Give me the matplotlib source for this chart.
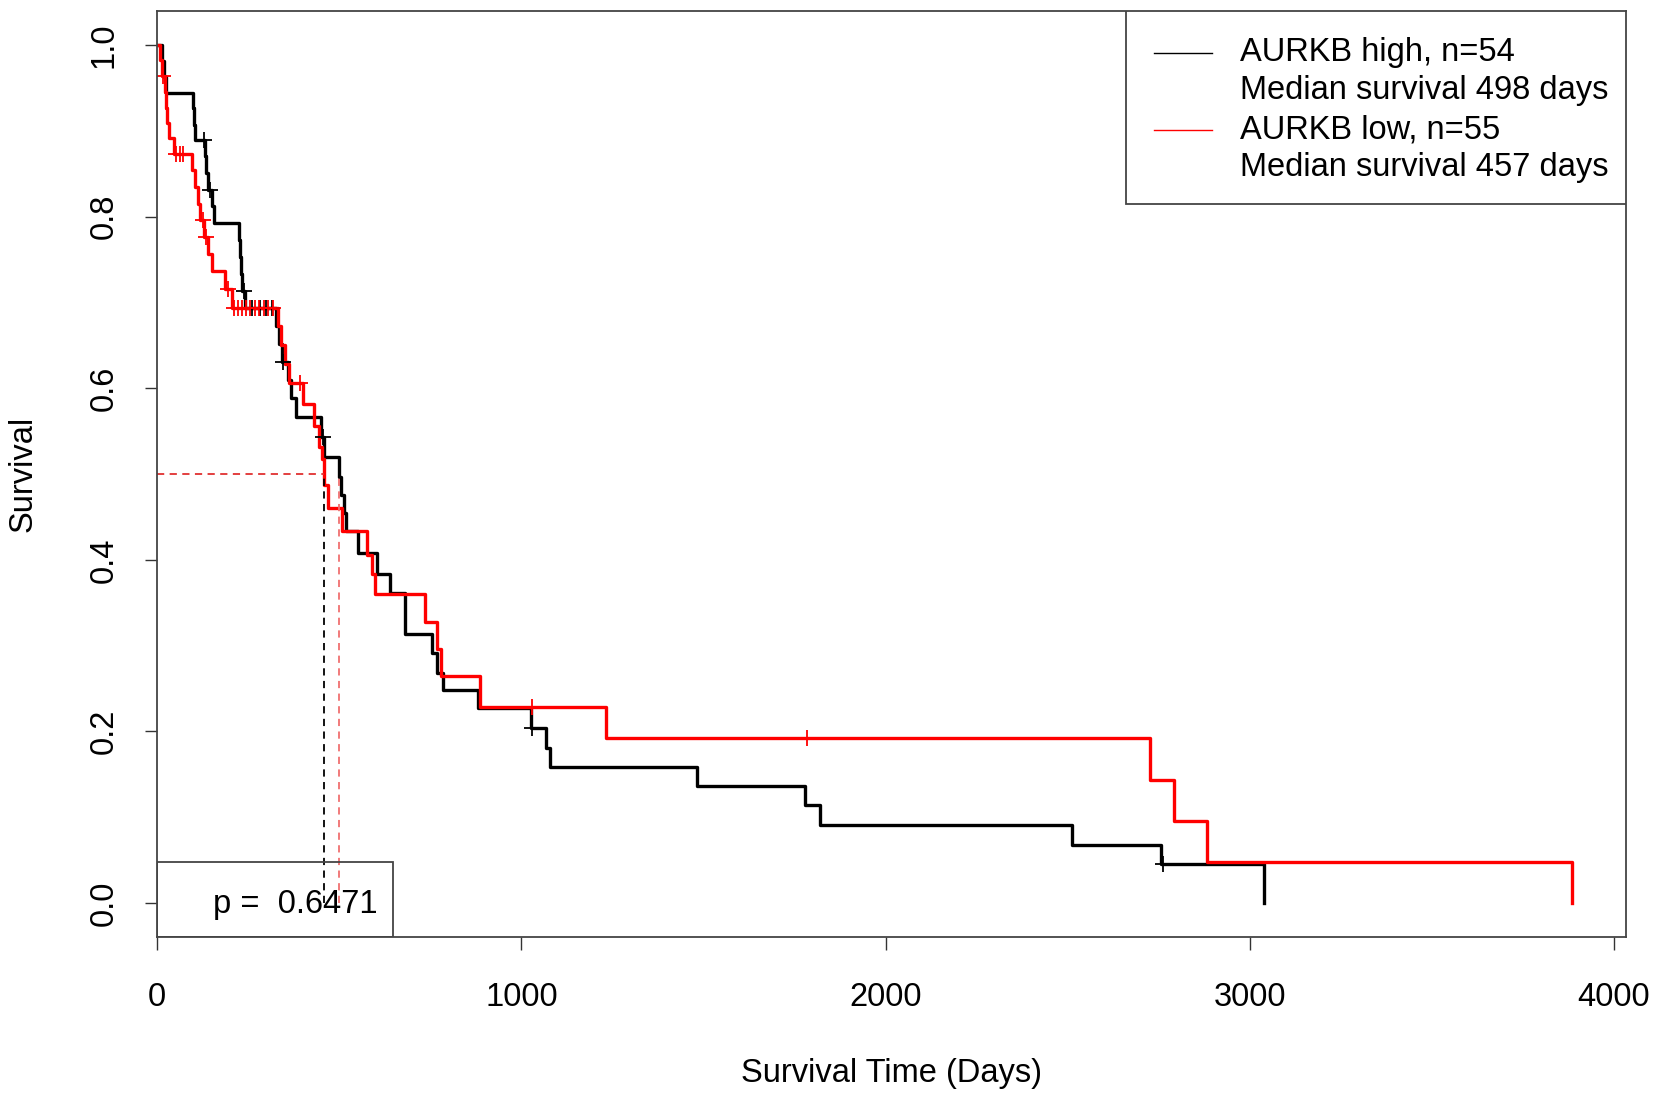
import numpy as np
import matplotlib
matplotlib.use('Agg')
import matplotlib.pyplot as plt
from matplotlib.patches import Rectangle

plt.rcParams['font.family'] = ['Liberation Sans', 'DejaVu Sans']

#%% data
# AURKB high (black): step times (days) and survival after each step
high_t = [0, 12, 18, 25, 98, 101, 105, 130, 135, 140, 150, 156, 225, 228, 231, 234,
          241, 327, 335, 342, 360, 368, 380, 450, 458, 498, 505, 512, 518, 552, 603,
          640, 680, 755, 768, 785, 881, 1026, 1068, 1078, 1482, 1778, 1820, 2512,
          2757, 3038]
high_s = [1.0, 0.981, 0.963, 0.944, 0.926, 0.907, 0.889, 0.870, 0.851, 0.831, 0.812,
          0.793, 0.773, 0.753, 0.733, 0.713, 0.693, 0.672, 0.651, 0.630, 0.609, 0.588,
          0.566, 0.543, 0.520, 0.497, 0.475, 0.454, 0.433, 0.408, 0.384, 0.361, 0.314,
          0.291, 0.268, 0.248, 0.227, 0.204, 0.181, 0.159, 0.136, 0.114, 0.091, 0.068,
          0.046, 0.0]
high_cens = [128, 145, 238, 259, 282, 300, 314, 345, 455, 1030, 2763]

# AURKB low (red)
low_t = [0, 8, 14, 20, 24, 28, 32, 45, 95, 105, 112, 118, 128, 140, 150, 186, 204,
         332, 340, 352, 362, 400, 430, 445, 452, 457, 470, 507, 575, 590, 598, 735,
         767, 778, 886, 1232, 2727, 2791, 2882, 3885]
low_s = [1.0, 0.982, 0.964, 0.945, 0.927, 0.909, 0.891, 0.873, 0.854, 0.835, 0.815,
         0.796, 0.776, 0.756, 0.736, 0.715, 0.694, 0.672, 0.650, 0.628, 0.606, 0.581,
         0.556, 0.531, 0.518, 0.487, 0.460, 0.433, 0.406, 0.383, 0.360, 0.328, 0.296,
         0.265, 0.229, 0.192, 0.143, 0.096, 0.048, 0.0]
low_cens = [17, 52, 62, 72, 125, 135, 195, 212, 222, 232, 245, 255, 268, 280, 292,
            305, 318, 392, 1028, 1783]

median_high = 498
median_low = 457
p_value = 0.6471
legend_labels = ['AURKB high, n=54', 'Median survival 498 days',
                 'AURKB low, n=55', 'Median survival 457 days']
x_ticks = [0, 1000, 2000, 3000, 4000]
y_ticks = [0.0, 0.2, 0.4, 0.6, 0.8, 1.0]

FS = 23.5


def surv_at(t, s, x):
    i = np.searchsorted(t, x, side='right') - 1
    return np.asarray(s)[i]


#%% plot
fig = plt.figure(figsize=(16.55, 10.93), dpi=100)
ax = fig.add_axes([0.0950, 0.1424, 0.8872, 0.8479])

ax.step(high_t, high_s, where='post', color='black', lw=2.4)
ax.step(low_t, low_s, where='post', color='red', lw=2.4)
ax.plot(high_cens, surv_at(high_t, high_s, high_cens), '+', color='black', ms=11, mew=1.3)
ax.plot(low_cens, surv_at(low_t, low_s, low_cens), '+', color='red', ms=11, mew=1.3)

# median lines (colours as in the original figure)
ax.plot([0, median_low], [0.5, 0.5], color='#e03030', lw=1.3, ls=(0, (4, 3)))
ax.plot([median_low, median_low], [0, 0.5], color='black', lw=1.3, ls=(0, (4, 3)))
ax.plot([median_high, median_high], [0, 0.5], color='#f07070', lw=1.3, ls=(0, (4, 3)))

ax.set_xlim(0, 4032)
ax.set_ylim(-0.04, 1.04)
ax.set_xticks(x_ticks)
ax.set_yticks(y_ticks)
ax.set_xticklabels([str(v) for v in x_ticks])
ax.set_yticklabels(['%.1f' % v for v in y_ticks], rotation=90, va='center')
ax.tick_params(direction='out', length=9, width=1, labelsize=FS, color='#333333')
ax.tick_params(axis='x', pad=23)
ax.tick_params(axis='y', pad=18)
for sp in ax.spines.values():
    sp.set_color('#444444')
    sp.set_linewidth(1.3)

ax.set_xlabel('Survival Time (Days)', fontsize=FS, va='center')
ax.set_ylabel('Survival', fontsize=FS, va='center')
ax.xaxis.set_label_coords(0.5, -0.147)
ax.yaxis.set_label_coords(-0.0915, 0.5)

# legend drawn by hand (R style, top right corner)
tr = ax.transAxes
ax.add_patch(Rectangle((0.660, 0.7916), 0.340, 0.2084, transform=tr, fill=True,
                       facecolor='white', edgecolor='#444444', lw=1.3, zorder=5))
ys = [0.9545, 0.9135, 0.8712, 0.8302]
for y, lab in zip(ys, legend_labels):
    ax.text(0.7375, y, lab, transform=tr, fontsize=FS, va='center', ha='left', zorder=6)
ax.plot([0.6787, 0.7182], [ys[0], ys[0]], transform=tr, color='black', lw=1, zorder=6)
ax.plot([0.6787, 0.7182], [ys[2], ys[2]], transform=tr, color='red', lw=1, zorder=6)

# p value box
ax.add_patch(Rectangle((0.0, 0.0), 0.1603, 0.0808, transform=tr, fill=False,
                       edgecolor='#444444', lw=1.3, zorder=4))
ax.text(0.094, 0.0353, 'p =  %.4f' % p_value, transform=tr, fontsize=FS,
        ha='center', va='center', zorder=4)

fig.savefig('out.png', dpi=100)
